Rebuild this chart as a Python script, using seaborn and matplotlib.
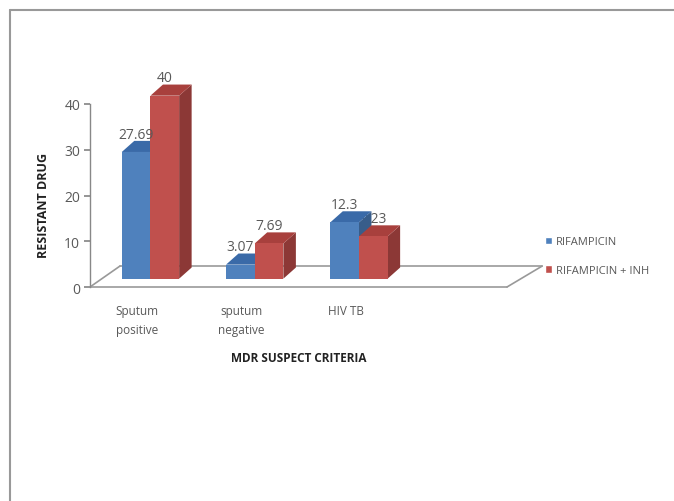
import matplotlib
matplotlib.use("Agg")
import matplotlib.pyplot as plt
import matplotlib.transforms as mtransforms
from matplotlib.patches import Polygon, Patch
from matplotlib.lines import Line2D
import seaborn as sns
import pandas as pd

categories = ["Sputum\npositive", "sputum\nnegative", "HIV TB"]
series_names = ["RIFAMPICIN", "RIFAMPICIN + INH"]
rifampicin = [27.69, 3.07, 12.3]
rifampicin_inh = [40, 7.69, 9.23]
label_texts = [["27.69", "3.07", "12.3"], ["40", "7.69", "9.23"]]
yticks = [0, 10, 20, 30, 40]

df = pd.DataFrame({
    "criteria": categories * 2,
    "series": [series_names[0]] * 3 + [series_names[1]] * 3,
    "value": rifampicin + rifampicin_inh,
})

sns.set_theme(style="white")
plt.rcParams["font.family"] = ["Open Sans", "DejaVu Sans"]

front = ["#4F81BD", "#C0504D"]
side = ["#385D8A", "#8C3836"]
top = ["#3A6AA8", "#A8403D"]
txt = "#595959"

fig = plt.figure(figsize=(6.74, 5.02), dpi=100)
ax = fig.add_axes([90 / 674, 1 - 288 / 502, 417 / 674, 183 / 502])

sns.barplot(data=df, x="criteria", y="value", hue="series", palette=front,
            width=0.55, saturation=1, ax=ax, legend=False, zorder=3)

ax.set_ylim(0, 40)
ax.set_xlim(-0.5, 3.5)
ax.set_yticks(yticks)
ax.set_yticklabels([str(t) for t in yticks], fontsize=10, color=txt)
ax.tick_params(axis="y", length=4, color="#888888", pad=3, left=True)
ax.tick_params(axis="x", length=0, pad=12)
ax.set_xticks(range(len(categories)))
ax.set_xticklabels(categories, fontsize=8.5, color=txt, ha="center", linespacing=1.6)
for lbl in ax.get_xticklabels():
    lbl.set_transform(lbl.get_transform() + mtransforms.ScaledTranslation(-0.05, 0, fig.dpi_scale_trans))

for s in ["top", "right", "bottom"]:
    ax.spines[s].set_visible(False)
ax.spines["left"].set_color("#888888")
ax.spines["left"].set_linewidth(1.0)

# depth offsets in points
dpx, dpy = 21.6, 15.1   # floor depth
bx, by = 6, 6           # bar base shift (middle of floor depth)
bdx, bdy = 9, 8         # bar depth

xa, xb = ax.get_xlim()
off_back = mtransforms.offset_copy(ax.transData, fig=fig, x=dpx, y=dpy, units="points")
back_end = xb + 0.05
ax.plot([xa, xb], [0, 0], color="#999999", lw=1.2, zorder=1, clip_on=False)
ax.plot([xa, back_end], [0, 0], color="#999999", lw=1.2, zorder=1, clip_on=False, transform=off_back)

fig.canvas.draw()
inv = ax.transData.inverted()
for (x_front, x_back) in [(xa, xa), (xb, back_end)]:
    a = ax.transData.transform((x_front, 0))
    b = off_back.transform((x_back, 0))
    qa, qb = inv.transform(a), inv.transform(b)
    ax.plot([qa[0], qb[0]], [qa[1], qb[1]], color="#999999", lw=1.2, zorder=1, clip_on=False)

shift = mtransforms.ScaledTranslation(bx / 72, by / 72, fig.dpi_scale_trans)
deep = mtransforms.ScaledTranslation(bdx / 72, bdy / 72, fig.dpi_scale_trans)

patches = [p for p in ax.patches if p.get_height() > 0][:6]
for i, p in enumerate(patches):
    s = 0 if i < 3 else 1
    j = i % 3
    x0, w, h = p.get_x(), p.get_width(), p.get_height()
    zo = 3 + s * 2
    p.set_transform(ax.transData + shift)
    p.set_zorder(zo)
    p.set_edgecolor("none")
    p.set_clip_on(False)
    t0 = ax.transData + shift
    t1 = ax.transData + shift + deep
    side_pts = [t0.transform((x0 + w, 0)), t1.transform((x0 + w, 0)),
                t1.transform((x0 + w, h)), t0.transform((x0 + w, h))]
    top_pts = [t0.transform((x0, h)), t1.transform((x0, h)),
               t1.transform((x0 + w, h)), t0.transform((x0 + w, h))]
    ax.add_patch(Polygon(inv.transform(side_pts), closed=True, facecolor=side[s],
                         edgecolor="none", zorder=zo - 0.5, clip_on=False))
    ax.add_patch(Polygon(inv.transform(top_pts), closed=True, facecolor=top[s],
                         edgecolor="none", zorder=zo - 0.5, clip_on=False))
    lab = mtransforms.offset_copy(ax.transData, fig=fig, x=bx, y=by + bdy - 0.5, units="points")
    # a label partly covered by a taller neighbouring bar sits behind it, as in the source
    lz = 2 if (s == 1 and rifampicin[j] > rifampicin_inh[j]) else 10
    ax.text(x0 + w / 2, h, label_texts[s][j], transform=lab, ha="center", va="bottom",
            fontsize=10, color=txt, zorder=lz)

ax.set_ylabel("RESISTANT DRUG", fontsize=9, fontweight="bold", color="#222222")
ax.yaxis.set_label_coords(-0.095, 0.45)
ax.set_xlabel("MDR SUSPECT CRITERIA", fontsize=8.5, fontweight="bold", color="#222222")
ax.xaxis.set_label_coords(0.5, -0.35)

handles = [Patch(facecolor=front[0]), Patch(facecolor=front[1])]
fig.legend(handles, series_names, loc="center left", bbox_to_anchor=(535 / 674, 1 - 257 / 502),
           frameon=False, fontsize=8, handlelength=0.6, handleheight=0.6, handletextpad=0.4,
           labelspacing=1.6, labelcolor=txt)

fig.add_artist(Line2D([10 / 674, 10 / 674], [0, 1 - 11 / 502], transform=fig.transFigure, color="#999999", lw=1.5))
fig.add_artist(Line2D([10 / 674, 1], [1 - 11 / 502, 1 - 11 / 502], transform=fig.transFigure, color="#999999", lw=1.5))

fig.savefig("out.png", dpi=100)
